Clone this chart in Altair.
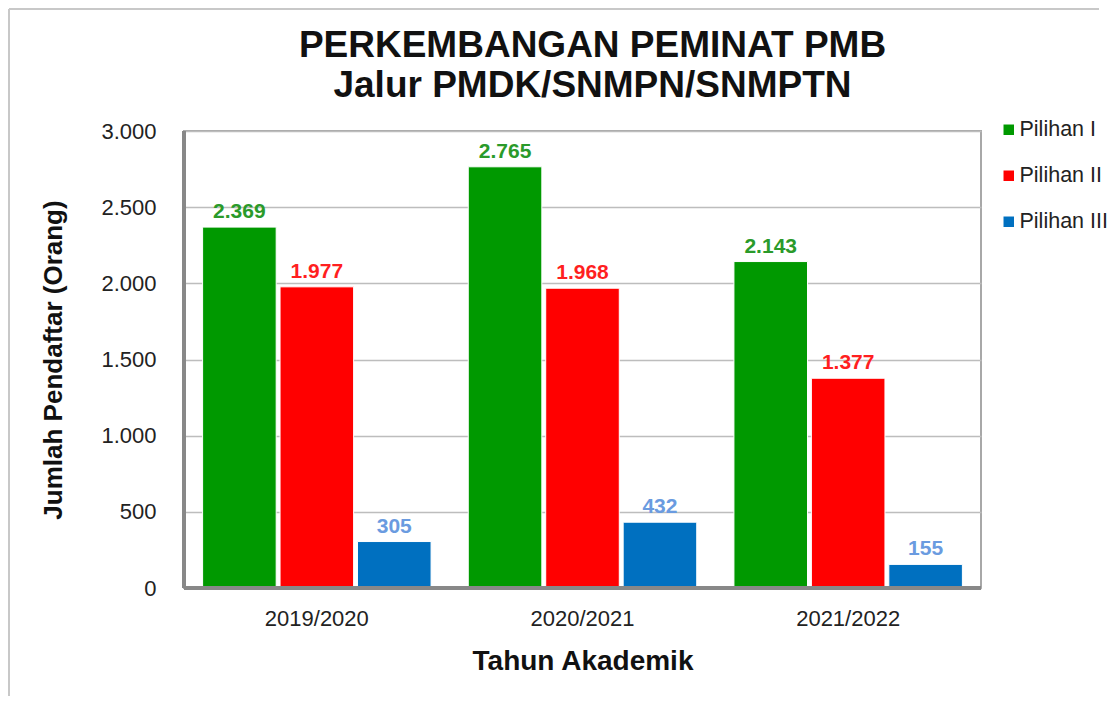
import altair as alt
import pandas as pd

years = ["2019/2020", "2020/2021", "2021/2022"]
series = ["Pilihan I", "Pilihan II", "Pilihan III"]
pilihan_1 = [2369, 2765, 2143]
pilihan_2 = [1977, 1968, 1377]
pilihan_3 = [305, 432, 155]
bar_colors = ["#009900", "#ff0000", "#0070c0"]
label_colors = ["#2a9a2a", "#ff1f1f", "#6a9be0"]
y_ticks = [0, 500, 1000, 1500, 2000, 2500, 3000]

rows = []
for s, vals in zip(series, [pilihan_1, pilihan_2, pilihan_3]):
    for yr, v in zip(years, vals):
        rows.append({"Tahun": yr, "Seri": s, "Nilai": v})
df = pd.DataFrame(rows)

FONT = "Liberation Sans"
fmt_expr = "replace(format(datum.Nilai, ','), ',', '.')"

x_enc = alt.X(
    "Tahun:N", sort=years, title="Tahun Akademik",
    scale=alt.Scale(paddingInner=0.14, paddingOuter=0.07),
    axis=alt.Axis(labelAngle=0, ticks=False, domain=False, labelFontSize=22,
                  labelColor="#222222", labelPadding=20, titleFontSize=28,
                  titleFontWeight="bold", titleColor="#111111", titlePadding=18),
)
xoff = alt.XOffset("Seri:N", sort=series, scale=alt.Scale(paddingInner=0.05))
y_enc = alt.Y(
    "Nilai:Q", title="Jumlah Pendaftar (Orang)",
    scale=alt.Scale(domain=[0, 3000]),
    axis=alt.Axis(values=y_ticks, ticks=False, domain=False,
                  labelExpr="replace(format(datum.value, ','), ',', '.')",
                  labelFontSize=22, labelColor="#222222", labelPadding=28,
                  titleFontSize=26, titleFontWeight="bold", titleColor="#111111",
                  titlePadding=34, gridColor="#bdbdbd", gridWidth=1.5),
)

base = alt.Chart(df)

bars = base.mark_bar(stroke="white", strokeWidth=1).encode(
    x=x_enc, xOffset=xoff, y=y_enc,
    color=alt.Color("Seri:N", sort=series,
                    scale=alt.Scale(domain=series, range=bar_colors),
                    legend=alt.Legend(title=None, symbolType="square", symbolSize=110,
                                      symbolStrokeWidth=0, labelFontSize=21.5,
                                      labelColor="#222222", rowPadding=23,
                                      orient="none", legendX=814, legendY=-12,
                                      padding=0, labelOffset=0)),
)

labels = base.transform_calculate(lbl=fmt_expr).mark_text(
    baseline="alphabetic", dy=-9, fontSize=21, fontWeight="bold", font=FONT
).encode(
    x=x_enc, xOffset=xoff, y=y_enc,
    text="lbl:N",
    color=alt.Color("Seri:N", scale=alt.Scale(domain=series, range=label_colors), legend=None),
)

left_axis_line = alt.Chart(df).mark_rule(color="#888888", strokeWidth=3).encode(
    x=alt.value(0), y=alt.value(0), y2=alt.value(457))
bottom_axis_line = alt.Chart(df).mark_rule(color="#888888", strokeWidth=3).encode(
    x=alt.value(0), x2=alt.value(797), y=alt.value(457))
frame_left = alt.Chart(df).mark_rule(color="#c8c8c8", strokeWidth=2).encode(
    x=alt.value(-175), y=alt.value(-122), y2=alt.value(565))
frame_top = alt.Chart(df).mark_rule(color="#c8c8c8", strokeWidth=2).encode(
    x=alt.value(-175), x2=alt.value(915), y=alt.value(-122))

chart = alt.layer(bars, labels, left_axis_line, bottom_axis_line, frame_left, frame_top).resolve_scale(
    color="independent"
).properties(
    width=797, height=457,
    padding={"left": 0, "top": 0, "right": 0, "bottom": 0},
    title=alt.Title(["PERKEMBANGAN PEMINAT PMB", "Jalur PMDK/SNMPN/SNMPTN"],
                    fontSize=37, fontWeight="bold", color="#111111", lineHeight=40,
                    anchor="middle", offset=-97, dx=10, font=FONT),
).configure(font=FONT).configure_view(stroke="#a8a8a8", strokeWidth=2)

chart.save("out.html", embed_options={"renderer": "svg", "actions": False})
